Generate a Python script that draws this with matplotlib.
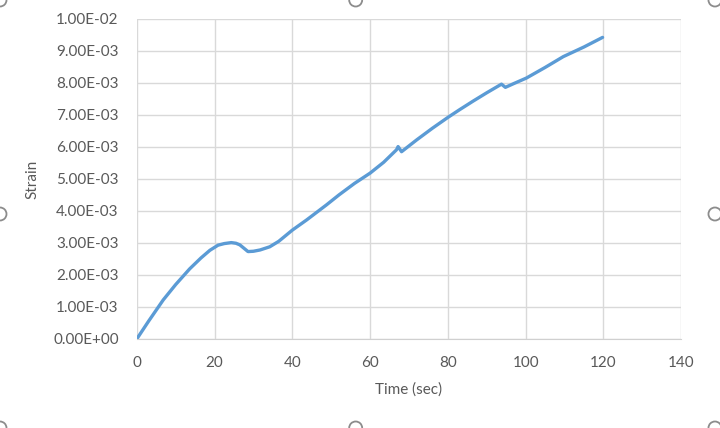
import matplotlib.pyplot as plt
from matplotlib.patches import Ellipse

# valeurs
temps = [0, 3, 6.8, 10, 13.6, 16.5, 18.8, 20.9, 22.5, 24.3, 25.5, 26.5, 27.6, 28.6,
         30, 31.7, 34.2, 36.5, 38.5, 40, 43.7, 48.8, 52, 56, 60, 63.5, 66.8, 67.2,
         68.1, 72, 76, 80, 83, 86.5, 90, 93.8, 94.8, 97, 100.2, 105, 109.7, 115, 119.8]
strain = [0, 0.55e-3, 1.22e-3, 1.70e-3, 2.19e-3, 2.53e-3, 2.77e-3, 2.93e-3, 2.98e-3,
          3.01e-3, 2.99e-3, 2.94e-3, 2.83e-3, 2.73e-3, 2.74e-3, 2.78e-3, 2.88e-3,
          3.05e-3, 3.25e-3, 3.40e-3, 3.72e-3, 4.19e-3, 4.50e-3, 4.86e-3, 5.18e-3,
          5.52e-3, 5.91e-3, 6.01e-3, 5.85e-3, 6.22e-3, 6.58e-3, 6.92e-3, 7.16e-3,
          7.43e-3, 7.69e-3, 7.96e-3, 7.86e-3, 7.98e-3, 8.15e-3, 8.48e-3, 8.82e-3,
          9.12e-3, 9.42e-3]

xticks = [0, 20, 40, 60, 80, 100, 120, 140]
yticks = [i * 1e-3 for i in range(11)]

plt.rcParams['font.family'] = ['Lato', 'DejaVu Sans']
gris = '#595959'

fig = plt.figure(figsize=(7.2, 4.28), dpi=100)
ax = fig.add_axes([0.190, 0.208, 0.756, 0.748])

ax.plot(temps, strain, color='#5B9BD5', linewidth=2.4, solid_capstyle='round',
        solid_joinstyle='round')

ax.set_xlim(0, 140)
ax.set_ylim(0, 0.01)
ax.set_xticks(xticks)
ax.set_yticks(yticks)
ax.set_yticklabels(['%.2E' % v for v in yticks])
ax.grid(True, color='#D9D9D9', linewidth=1)
ax.set_axisbelow(True)
for s in ['top', 'right', 'left']:
    ax.spines[s].set_visible(False)
ax.spines['bottom'].set_color('#D0D0D0')
ax.tick_params(length=0, colors=gris, labelsize=11)
ax.tick_params(axis='y', pad=13)
ax.tick_params(axis='x', pad=12)
ax.set_xlabel('Time (sec)', color=gris, fontsize=11, labelpad=9)
ax.set_ylabel('Strain', color=gris, fontsize=11, labelpad=9.5)

# poignées de sélection autour du graphique (capture Excel)
for (px, py) in [(0, 1), (0.494, 1), (0.993, 1), (0, 0.5), (0.993, 0.5),
                 (0, 0), (0.494, 0), (0.993, 0)]:
    fig.patches.append(Ellipse((px, py), 13 / 720, 13 / 428, transform=fig.transFigure,
                               facecolor='white', edgecolor='#8C8C8C', linewidth=1.3))

fig.savefig('out.png', dpi=100)
